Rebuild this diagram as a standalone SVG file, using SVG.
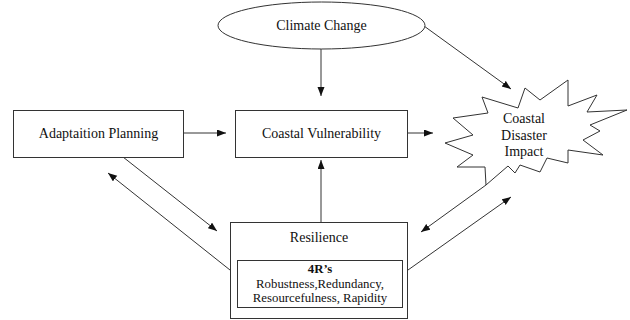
<svg xmlns="http://www.w3.org/2000/svg" width="630" height="320" viewBox="0 0 630 320">
<style>
.shape{fill:#fff;stroke:#333;stroke-width:1}
.line{fill:none;stroke:#333;stroke-width:1}
text{font-family:"Liberation Serif","Times New Roman",serif;font-size:14px;fill:#111;text-anchor:middle}
.small{font-size:12.8px}
.bold{font-weight:bold}
</style>
<defs>
<marker id="ah" markerUnits="userSpaceOnUse" markerWidth="10" markerHeight="8" refX="9" refY="3.5" orient="auto">
<path d="M0,0 L9,3.5 L0,7 z" fill="#111"/>
</marker>
</defs>
<rect width="630" height="320" fill="#fff"/>
<g id="connectors">
<line class="line" x1="321" y1="49" x2="321" y2="96" marker-end="url(#ah)"/>
<line class="line" x1="184" y1="133" x2="226" y2="133" marker-end="url(#ah)"/>
<line class="line" x1="408" y1="133" x2="433" y2="133" marker-end="url(#ah)"/>
<line class="line" x1="321" y1="222" x2="321" y2="160" marker-end="url(#ah)"/>
<line class="line" x1="424" y1="26" x2="511" y2="89" marker-end="url(#ah)"/>
<line class="line" x1="123" y1="157" x2="217" y2="231" marker-end="url(#ah)"/>
<line class="line" x1="230" y1="270" x2="108" y2="173" marker-end="url(#ah)"/>
<line class="line" x1="486" y1="185" x2="421" y2="232" marker-end="url(#ah)"/>
<line class="line" x1="408" y1="270" x2="511" y2="197" marker-end="url(#ah)"/>
</g>
<g id="climate">
<ellipse class="shape" cx="321.5" cy="25.5" rx="103.5" ry="23.5"/>
<text x="321.5" y="30">Climate Change</text>
</g>
<g id="adaptation">
<rect class="shape" x="13.5" y="110.5" width="170" height="47"/>
<text x="98.5" y="138">Adaptaition Planning</text>
</g>
<g id="vulnerability">
<rect class="shape" x="235.5" y="110.5" width="172" height="47"/>
<text x="321.5" y="138">Coastal Vulnerability</text>
</g>
<g id="impact">
<polygon class="shape" points="482,97 518,108 525,88 540,100 568,80 568,106 597,95 587,112 627,110 590,125 600,131 583,140 603,155 568,150 568,163 547,158 540,172 520,165 515,173 508,166 486,185 485,167 457,167 473,155 445,143 473,135 453,118 488,113"/>
<text x="524" y="123">Coastal</text>
<text x="524" y="140">Disaster</text>
<text x="524" y="156">Impact</text>
</g>
<g id="resilience">
<rect class="shape" x="230.5" y="222.5" width="177" height="96"/>
<text x="319" y="242">Resilience</text>
<rect class="shape" x="237.5" y="260.5" width="165" height="47"/>
<text class="small bold" x="320" y="273">4R’s</text>
<text class="small" x="320" y="288">Robustness,Redundancy,</text>
<text class="small" x="320" y="302">Resourcefulness, Rapidity</text>
</g>
</svg>
